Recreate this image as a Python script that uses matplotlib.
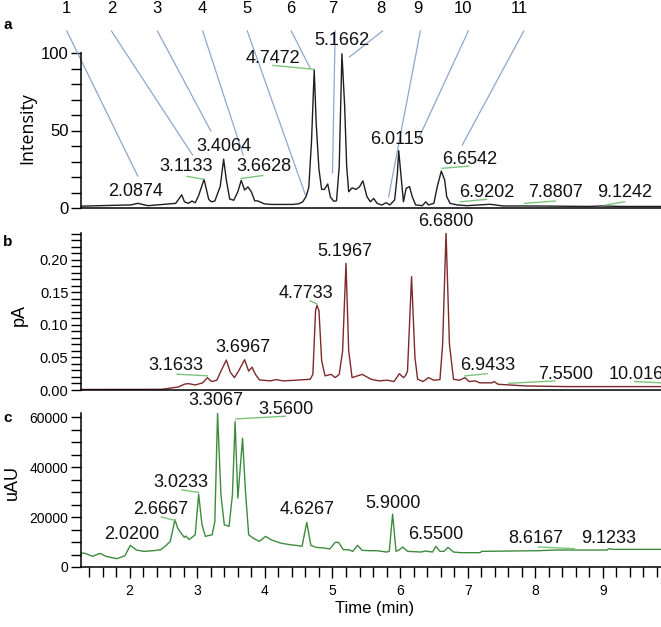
import matplotlib.pyplot as plt
from matplotlib.ticker import MultipleLocator, FormatStrFormatter

plt.rcParams['font.family'] = ['Liberation Sans', 'DejaVu Sans']

# ---- panel a : relative intensity (time min, intensity)
a_trace = [(1.29, 1.2), (2.02, 2), (2.12, 3), (2.22, 2), (2.27, 1.5), (2.41, 2), (2.68, 3),
           (2.73, 6), (2.77, 8.5), (2.81, 4), (2.87, 3), (2.92, 4.5), (2.97, 3.4), (3.02, 8),
           (3.10, 18.5), (3.17, 5.5), (3.21, 4), (3.26, 4.5), (3.34, 14), (3.39, 31.5),
           (3.43, 18), (3.48, 5.8), (3.54, 5), (3.60, 10.5), (3.65, 17.8), (3.70, 11.6),
           (3.75, 13.6), (3.80, 10.5), (3.85, 4.6), (3.89, 4.6), (3.94, 3.7), (3.99, 2.7),
           (4.09, 2.3), (4.21, 2.3), (4.41, 2.3), (4.50, 2.7), (4.56, 4), (4.61, 7.4),
           (4.65, 13.5), (4.69, 43), (4.73, 89), (4.76, 54), (4.80, 25), (4.84, 12),
           (4.88, 12), (4.93, 15.5), (4.97, 7), (5.02, 4.3), (5.06, 4.7), (5.10, 27),
           (5.14, 99.5), (5.18, 66), (5.21, 27), (5.24, 10.5), (5.29, 13), (5.35, 12),
           (5.40, 13.7), (5.45, 17.5), (5.51, 7.3), (5.56, 4), (5.61, 6.2), (5.66, 3),
           (5.73, 1.9), (5.79, 3.4), (5.85, 2), (5.92, 5.2), (5.96, 22), (5.98, 37),
           (6.02, 18), (6.05, 4), (6.09, 12.7), (6.14, 13.8), (6.18, 7.3), (6.23, 2),
           (6.33, 1.5), (6.38, 4), (6.42, 2), (6.50, 3), (6.55, 13.7), (6.61, 23.8),
           (6.66, 18), (6.69, 7.3), (6.74, 3), (6.84, 2), (6.99, 1.5), (7.33, 2.4),
           (7.52, 1.3), (8.00, 1.3), (8.79, 1), (8.98, 1.3), (9.27, 1), (9.86, 1)]
a_labels = ['2.0874', '3.1133', '3.4064', '3.6628', '4.7472', '5.1662',
            '6.0115', '6.6542', '6.9202', '7.8807', '9.1242']
a_label_t = [2.09, 2.84, 3.40, 3.98, 4.12, 5.14, 5.96, 7.03, 7.28, 8.30, 9.32]
a_label_y = [10.5, 26.7, 39.5, 26.7, 96.5, 108, 44.5, 31.6, 10, 10, 10]
a_leaders = [(2.85, 20.4, 3.10, 18.5), (3.65, 19, 3.97, 21), (4.12, 92, 4.73, 89.5),
             (6.62, 25.6, 7.01, 27), (6.89, 4, 7.28, 5.6), (7.84, 3, 8.30, 4.5),
             (9.05, 2, 9.32, 4)]
# numbered call-outs at the top of panel a
callout_num = list(range(1, 12))
callout_text_t = [1.07, 1.73, 2.41, 3.08, 3.74, 4.39, 5.01, 5.72, 6.27, 6.93, 7.76]
callout_line = [(1.07, 2.12, 20.6), (1.73, 2.93, 34.2), (2.41, 3.20, 49.7), (3.08, 3.68, 34.2),
                (3.74, 4.60, 8.4), (4.39, 4.67, 90.3), (5.04, 5.00, 22.6), (5.74, 5.25, 97.4),
                (6.30, 5.83, 7.1), (7.01, 6.27, 44.5), (7.83, 6.92, 40.6)]

# ---- panel b : pA
b_trace = [(1.29, 0.0008), (2.47, 0.001), (2.72, 0.0046), (2.81, 0.009), (2.87, 0.0098),
           (2.97, 0.0077), (3.08, 0.011), (3.15, 0.019), (3.21, 0.013), (3.29, 0.015),
           (3.35, 0.029), (3.43, 0.046), (3.49, 0.027), (3.55, 0.019), (3.61, 0.029),
           (3.70, 0.0465), (3.76, 0.029), (3.81, 0.035), (3.86, 0.024), (3.92, 0.0155),
           (4.08, 0.014), (4.17, 0.016), (4.27, 0.014), (4.45, 0.015), (4.67, 0.0165),
           (4.71, 0.024), (4.75, 0.122), (4.77, 0.130), (4.80, 0.122), (4.84, 0.045),
           (4.89, 0.0217), (4.98, 0.024), (5.04, 0.019), (5.10, 0.024), (5.15, 0.060),
           (5.20, 0.1945), (5.24, 0.060), (5.29, 0.019), (5.37, 0.0217), (5.44, 0.024),
           (5.50, 0.0206), (5.57, 0.0165), (5.69, 0.014), (5.81, 0.015), (5.91, 0.013),
           (5.99, 0.025), (6.05, 0.019), (6.08, 0.022), (6.11, 0.029), (6.17, 0.174),
           (6.22, 0.050), (6.26, 0.0165), (6.34, 0.013), (6.42, 0.019), (6.50, 0.015),
           (6.59, 0.016), (6.63, 0.0707), (6.68, 0.2425), (6.73, 0.0707), (6.79, 0.0165),
           (6.88, 0.015), (6.96, 0.019), (7.02, 0.013), (7.11, 0.014), (7.18, 0.011),
           (7.36, 0.011), (7.39, 0.013), (7.45, 0.0088), (7.86, 0.0062), (8.48, 0.0052),
           (9.10, 0.0052), (9.86, 0.0052)]
b_labels = ['3.1633', '3.6967', '4.7733', '5.1967', '6.6800', '6.9433', '7.5500', '10.0167']
b_label_t = [2.69, 3.68, 4.61, 5.19, 6.68, 7.30, 8.45, 9.56]
b_label_y = [0.037, 0.0655, 0.148, 0.2126, 0.259, 0.037, 0.024, 0.024]
b_leaders = [(2.70, 0.0243, 3.15, 0.0217), (4.67, 0.137, 4.77, 0.132),
             (6.96, 0.0217, 7.29, 0.025), (7.61, 0.0103, 8.29, 0.014),
             (9.47, 0.013, 9.86, 0.011)]

# ---- panel c : uAU
c_trace = [(1.28, 5600), (1.34, 5470), (1.45, 4270), (1.56, 5470), (1.65, 4270), (1.81, 3330),
           (1.93, 4530), (2.01, 8670), (2.10, 6800), (2.21, 6270), (2.35, 6530), (2.46, 6930),
           (2.54, 8670), (2.60, 10270), (2.67, 18930), (2.71, 15600), (2.77, 13200),
           (2.81, 11870), (2.83, 12400), (2.88, 11000), (2.97, 12930), (3.02, 29200),
           (3.07, 16930), (3.12, 12270), (3.22, 12930), (3.26, 18270), (3.30, 61600),
           (3.35, 28930), (3.40, 16930), (3.47, 16270), (3.52, 28930), (3.56, 58270),
           (3.60, 27600), (3.67, 51600), (3.71, 31600), (3.76, 12930), (3.84, 11330),
           (3.92, 10270), (4.01, 12270), (4.09, 10930), (4.23, 9600), (4.37, 8930),
           (4.46, 8670), (4.55, 8270), (4.62, 17870), (4.68, 8670), (4.76, 7870),
           (4.88, 7600), (4.96, 7200), (5.04, 9870), (5.09, 9870), (5.16, 6930),
           (5.24, 6930), (5.30, 6270), (5.37, 8670), (5.44, 6670), (5.55, 6530),
           (5.66, 6530), (5.80, 6000), (5.84, 6270), (5.89, 21200), (5.94, 6270),
           (5.99, 6930), (6.04, 8000), (6.11, 6270), (6.31, 6000), (6.37, 6400),
           (6.48, 6000), (6.53, 8270), (6.59, 6270), (6.65, 6270), (6.71, 7870),
           (6.79, 6000), (6.90, 5730), (7.18, 5730), (7.21, 6270), (8.03, 6530),
           (8.31, 6800), (9.06, 6800), (9.09, 7330), (9.15, 7070), (9.86, 7070)]
c_labels = ['2.0200', '2.6667', '3.0233', '3.3067', '3.5600', '4.6267',
            '5.9000', '6.5500', '8.6167', '9.1233']
c_label_t = [2.03, 2.46, 2.75, 3.28, 4.31, 4.62, 5.89, 6.53, 8.00, 9.09]
c_label_y = [12930, 23200, 34000, 66900, 63300, 22930, 25600, 12930, 11330, 11600]
c_leaders = [(2.47, 20000, 2.67, 18660), (2.77, 30930, 3.02, 29860),
             (3.57, 59330, 4.30, 60400), (8.05, 8000, 8.58, 7330)]

W, H = 661, 627
fig = plt.figure(figsize=(W / 100, H / 100), dpi=100)
ax_a = fig.add_axes([81 / W, 1 - 208 / H, 580 / W, 155 / H])
ax_b = fig.add_axes([81 / W, 1 - 390 / H, 580 / W, 157 / H])
ax_c = fig.add_axes([81 / W, 1 - 567 / H, 580 / W, 154 / H])

lead_col = '#7cc47c'
for ax, tsize in ((ax_a, 12), (ax_b, 10.5), (ax_c, 10)):
    ax.set_xlim(1.28, 9.86)
    ax.spines['top'].set_visible(False)
    ax.spines['right'].set_visible(False)
    for s in ('left', 'bottom'):
        ax.spines[s].set_linewidth(1.1)
    ax.tick_params(axis='y', which='both', length=7, width=1, labelsize=tsize, pad=2)

def draw(ax, trace, col, labels, lt, ly, leaders):
    ax.plot([p[0] for p in trace], [p[1] for p in trace], color=col, lw=1.0)
    for s, t, y in zip(labels, lt, ly):
        ax.text(t, y, s, ha='center', va='center', fontsize=13, color='#111111')
    for t0, y0, t1, y1 in leaders:
        ax.plot([t0, t1], [y0, y1], color=lead_col, lw=1.0, clip_on=False)

# panel a
draw(ax_a, a_trace, '#1e1e1e', a_labels, a_label_t, a_label_y, a_leaders)
ax_a.set_ylim(0, 100)
ax_a.yaxis.set_major_locator(MultipleLocator(50))
ax_a.yaxis.set_minor_locator(MultipleLocator(10))
ax_a.tick_params(axis='x', which='both', bottom=False, labelbottom=False)
for n, tt, (t0, t1, y1) in zip(callout_num, callout_text_t, callout_line):
    ax_a.text(tt, 128.4, str(n), ha='center', va='center', fontsize=12, clip_on=False)
    ax_a.plot([t0, t1], [114.2, y1], color='#8ea6cf', lw=0.9, clip_on=False)

# panel b
draw(ax_b, b_trace, '#7d2a2a', b_labels, b_label_t, b_label_y, b_leaders)
ax_b.set_ylim(0, 0.241)
ax_b.yaxis.set_major_locator(MultipleLocator(0.05))
ax_b.yaxis.set_minor_locator(MultipleLocator(0.01))
ax_b.yaxis.set_major_formatter(FormatStrFormatter('%.2f'))
ax_b.tick_params(axis='x', which='both', bottom=False, labelbottom=False)

# panel c
draw(ax_c, c_trace, '#3d8b3d', c_labels, c_label_t, c_label_y, c_leaders)
ax_c.set_ylim(0, 61700)
ax_c.yaxis.set_major_locator(MultipleLocator(20000))
ax_c.yaxis.set_minor_locator(MultipleLocator(5000))
ax_c.set_xticks(range(2, 10))
ax_c.xaxis.set_minor_locator(MultipleLocator(0.2))
ax_c.tick_params(axis='x', which='major', length=8, width=1, labelsize=10, pad=4)
ax_c.tick_params(axis='x', which='minor', length=7, width=1)

# axis titles and panel letters
fig.text(27 / W, 1 - 128 / H, 'Intensity', rotation=90, ha='center', va='center',
         fontsize=13, family=['Open Sans', 'DejaVu Sans'])
fig.text(19 / W, 1 - 315 / H, 'pA', rotation=90, ha='center', va='center', fontsize=13)
fig.text(12 / W, 1 - 482 / H, 'uAU', rotation=90, ha='center', va='center', fontsize=13)
fig.text(375 / W, 1 - 609 / H, 'Time (min)', ha='center', va='center', fontsize=12)
for letter, y in (('a', 25), ('b', 242), ('c', 418)):
    fig.text(8 / W, 1 - y / H, letter, ha='center', va='center', fontsize=11, weight='bold')

fig.savefig('out.png', dpi=100)
